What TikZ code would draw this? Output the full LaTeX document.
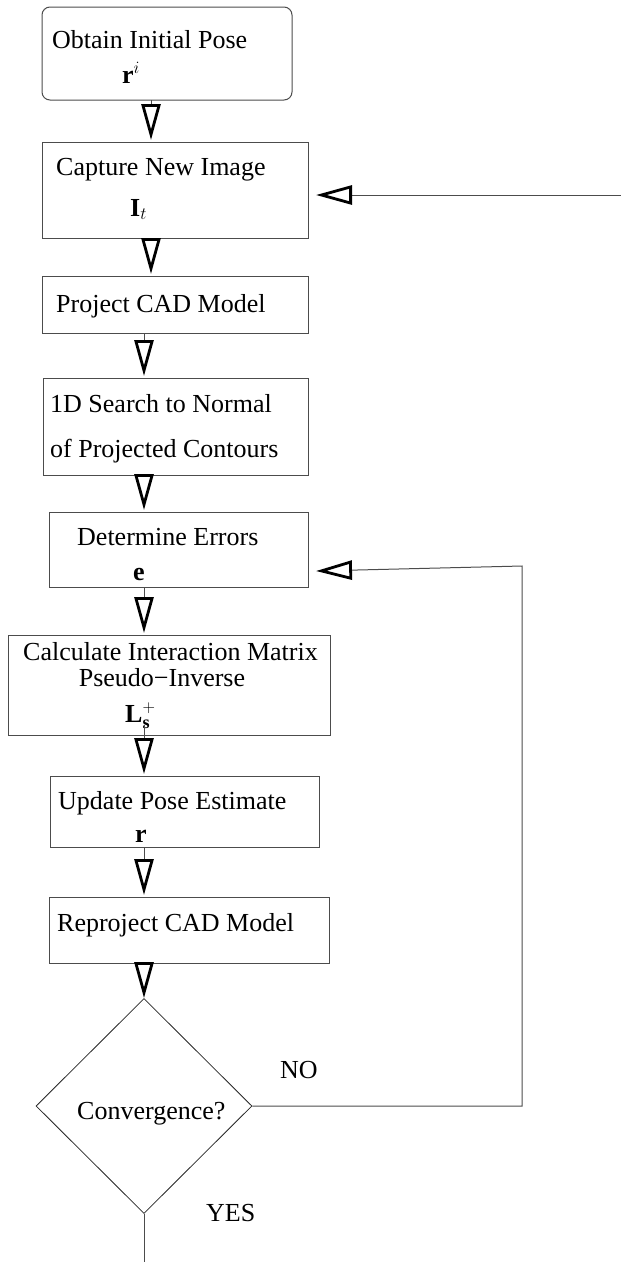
\documentclass[tikz,border=0pt]{standalone}
\usepackage{fontspec}
\setmainfont{Liberation Serif}
\usetikzlibrary{arrows.meta,shapes.geometric,calc}
\begin{document}
\begin{tikzpicture}[x=1pt,y=-1pt,
  box/.style={draw=black!70, line width=1pt, anchor=north west, inner sep=0pt, outer sep=0pt},
  lbl/.style={anchor=base west, inner sep=0pt, font=\fontsize{26}{31}\selectfont},
  flow/.style={draw=black!70, line width=1pt, -{Triangle[open, length=36pt, width=19pt, line width=2.8pt, color=black]}},
  plain/.style={draw=black!70, line width=1pt}]
\useasboundingbox (0,0) rectangle (621,1262);
% boxes
\node[box, rounded corners=8pt, minimum width=250pt, minimum height=93pt] (b1) at (42,7) {};
\node[box, minimum width=266pt, minimum height=96pt] (b2) at (42,142) {};
\node[box, minimum width=266pt, minimum height=57pt] (b3) at (42,276) {};
\node[box, minimum width=265pt, minimum height=97pt] (b4) at (43,378) {};
\node[box, minimum width=259pt, minimum height=75pt] (b5) at (49,512) {};
\node[box, minimum width=322pt, minimum height=100pt] (b6) at (8,635) {};
\node[box, minimum width=269pt, minimum height=71pt] (b7) at (50,776) {};
\node[box, minimum width=280pt, minimum height=66pt] (b8) at (49,897) {};
\node[diamond, draw=black!85, line width=0.8pt, minimum width=216pt, minimum height=215pt, inner sep=0pt] (d) at (144,1106) {};
% labels
\node[lbl] (t1) at (52,48) {Obtain Initial Pose};
\node[lbl] (m1) at (122,83) {$\mathbf{r}^{i}$};
\node[lbl] (t2) at (56,175) {Capture New Image};
\node[lbl] (m2) at (130,216) {$\mathbf{I}_{t}$};
\node[lbl] (t3) at (56,312) {Project CAD Model};
\node[lbl] (t4a) at (50,412) {1D Search to Normal};
\node[lbl] (t4b) at (50,457) {of Projected Contours};
\node[lbl] (t5) at (77,545) {Determine Errors};
\node[lbl] (m5) at (133,580) {$\mathbf{e}$};
\node[lbl] (t6a) at (23,660) {Calculate Interaction Matrix};
\node[lbl, anchor=base] (t6b) at (162,686) {Pseudo−Inverse};
\node[lbl] (m6) at (125,722) {$\mathbf{L}_{\mathbf{s}}^{+}$};
\node[lbl] (t7) at (58,809) {Update Pose Estimate};
\node[lbl] (m7) at (135,842) {$\mathbf{r}$};
\node[lbl] (t8) at (57,931) {Reproject CAD Model};
\node[lbl] (td) at (77,1119) {Convergence?};
\node[lbl] (no) at (280,1078) {NO};
\node[lbl] (yes) at (206,1221) {YES};
% connectors
\coordinate (ax1) at (151,0);
\coordinate (ax) at (144,0);
\draw[flow] (b1.south -| ax1) -- ($(b2.north -| ax1)+(0,-2)$);
\draw[flow] (b2.south -| ax1) -- ($(b3.north -| ax1)+(0,-2)$);
\draw[flow] (b3.south -| ax) -- ($(b4.north -| ax)+(0,-2)$);
\draw[flow] (b4.south -| ax) -- ($(b5.north -| ax)+(0,-2)$);
\draw[flow] (b5.south -| ax) -- ($(b6.north -| ax)+(0,-2)$);
\draw[flow] ($(b6.south -| ax)+(0,-10)$) -- ($(b7.north -| ax)+(0,-2)$);
\draw[flow] (b7.south -| ax) -- ($(b8.north -| ax)+(0,-2)$);
\draw[flow] (b8.south -| ax) -- (d.north);
\coordinate (end) at (143,1262);
\draw[plain] (d.south) -- (d.south |- end);
\coordinate (loopx) at (522,566);
\coordinate (tip5) at (316,571);
\draw[flow] (d.east) -| (loopx) -- (tip5);
\coordinate (rin) at (621,195);
\coordinate (tip2) at (316,195);
\draw[flow] (rin) -- (tip2);
\end{tikzpicture}
\end{document}
